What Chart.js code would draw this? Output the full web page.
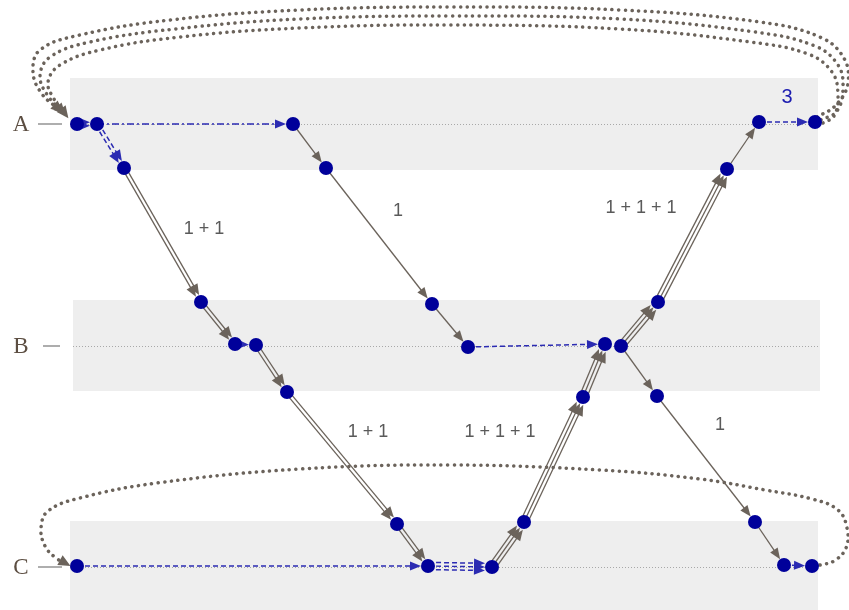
<!DOCTYPE html>
<html>
<head>
<meta charset="utf-8">
<script src="https://cdn.jsdelivr.net/npm/chart.js@4.4.1/dist/chart.umd.min.js"></script>
<style>
  html, body { margin: 0; padding: 0; background: #fff; }
  #wrap { width: 849px; height: 610px; }
</style>
</head>
<body>
<div id="wrap"><canvas id="diagram" width="849" height="610"></canvas></div>
<script>
// --- data ---
const rowNames = ['A', 'B', 'C'];
const rowY = [124, 346, 567];
const bandTop = [78, 300, 521];
const bandBottom = [170, 391, 610];
const bandLeft = [70, 73, 70];
const bandRight = [818, 820, 818];

// nodes (blue dots)
const nodeX = [77, 97, 293, 759, 815, 124, 326, 727, 201, 432, 658, 235, 256, 468, 605, 621, 287, 583, 657, 397, 524, 755, 77, 428, 492, 784, 812];
const nodeY = [124, 124, 124, 122, 122, 168, 168, 169, 302, 304, 302, 344, 345, 347, 344, 346, 392, 397, 396, 524, 522, 522, 566, 566, 567, 565, 566];

// edges: from node, to node, number of parallel lines, style
const edgeFrom  = [0, 1, 1, 3, 11, 13, 22, 23, 25, 5, 8, 12, 16, 19, 2, 6, 9, 24, 20, 17, 15, 10, 7, 15, 18, 21];
const edgeTo    = [1, 2, 5, 4, 12, 14, 23, 24, 26, 8, 11, 16, 19, 23, 6, 9, 13, 20, 17, 14, 10, 7, 3, 18, 21, 25];
const edgeCount = [2, 1, 2, 1, 1, 1, 1, 3, 1, 2, 2, 2, 2, 2, 1, 1, 1, 3, 3, 3, 3, 3, 1, 1, 1, 1];
const edgeStyle = ['dash', 'dashdot', 'dash', 'dash', 'dash', 'dash', 'dash', 'dash', 'dash',
  'solid', 'solid', 'solid', 'solid', 'solid', 'solid', 'solid', 'solid', 'solid', 'solid', 'solid',
  'solid', 'solid', 'solid', 'solid', 'solid', 'solid'];

// edge weight labels
const labelText = ['1 + 1', '1', '1 + 1 + 1', '3', '1 + 1', '1 + 1 + 1', '1'];
const labelX = [204, 398, 641, 787, 368, 500, 720];
const labelY = [229, 211, 208, 97, 432, 432, 425];

// dotted loops (waypoints)
const loopTopOuterX = [817, 835, 848, 845, 822, 760, 620, 450, 300, 170, 80, 40, 33, 42, 60];
const loopTopOuterY = [117, 106, 84, 60, 38, 22, 10, 7, 10, 20, 35, 50, 72, 94, 110];
const loopTopMidX = [821, 837, 843, 838, 815, 755, 620, 450, 300, 175, 90, 50, 40, 48, 63];
const loopTopMidY = [120, 111, 88, 65, 46, 32, 19, 16, 19, 29, 42, 57, 76, 96, 112];
const loopTopInnerX = [823, 834, 838, 832, 808, 750, 620, 450, 300, 180, 100, 60, 48, 54, 66];
const loopTopInnerY = [123, 116, 95, 72, 54, 42, 29, 25, 28, 37, 50, 65, 82, 99, 115];
const loopBottomX = [820, 834, 846, 847, 838, 812, 765, 700, 600, 450, 300, 157, 80, 48, 41, 45, 56, 67];
const loopBottomY = [565, 561, 548, 528, 510, 499, 490, 479, 470, 465, 469, 483, 498, 511, 528, 546, 558, 564];

// --- helpers ---
const GREY = '#6b635b';
const BLUE = '#2b2bb2';
const NODE = '#00009a';

const toPts = (xs, ys) => xs.map((x, i) => ({ x: x, y: ys[i] }));

function arrowHead(ctx, tx, ty, ux, uy, len, half, color) {
    const bx = tx - ux * len, by = ty - uy * len;
    ctx.fillStyle = color;
    ctx.beginPath();
    ctx.moveTo(tx, ty);
    ctx.lineTo(bx - uy * half, by + ux * half);
    ctx.lineTo(bx + uy * half, by - ux * half);
    ctx.closePath();
    ctx.fill();
}

const diagramPlugin = {
    id: 'diagram',
    beforeDatasetsDraw(chart) {
        const ctx = chart.ctx;
        const sx = chart.scales.x, sy = chart.scales.y;
        const px = v => sx.getPixelForValue(v);
        const py = v => sy.getPixelForValue(v);
        ctx.save();

        // grey bands and row guide lines
        rowY.forEach((ry, i) => {
            ctx.fillStyle = '#eeeeee';
            ctx.fillRect(px(bandLeft[i]), py(bandTop[i]), px(bandRight[i]) - px(bandLeft[i]), py(bandBottom[i]) - py(bandTop[i]));
            ctx.strokeStyle = '#a8a8a8';
            ctx.lineWidth = 1;
            ctx.setLineDash([1, 2]);
            ctx.beginPath();
            ctx.moveTo(px(bandLeft[i]), py(ry) + 0.5);
            ctx.lineTo(px(bandRight[i]), py(ry) + 0.5);
            ctx.stroke();
            ctx.setLineDash([]);

            // row names
            ctx.fillStyle = '#5c4e42';
            ctx.font = '23px "Liberation Serif", "DejaVu Serif", serif';
            ctx.textAlign = 'center';
            ctx.textBaseline = 'middle';
            ctx.fillText(rowNames[i], px(21), py(ry) + 1);
            ctx.strokeStyle = '#777';
            ctx.lineWidth = 1.2;
            ctx.beginPath();
            const x0 = i === 1 ? 43 : 38;
            const x1 = i === 1 ? 60 : 62;
            ctx.moveTo(px(x0), py(ry));
            ctx.lineTo(px(x1), py(ry));
            ctx.stroke();
        });

        // edges
        edgeFrom.forEach((f, e) => {
            const ax = px(nodeX[f]), ay = py(nodeY[f]);
            const bx = px(nodeX[edgeTo[e]]), by = py(nodeY[edgeTo[e]]);
            const dx = bx - ax, dy = by - ay;
            const len = Math.hypot(dx, dy);
            const ux = dx / len, uy = dy / len;
            const nx = -uy, ny = ux;
            const n = edgeCount[e];
            const style = edgeStyle[e];
            const color = style === 'solid' ? GREY : BLUE;
            const gap = 3.6;
            for (let k = 0; k < n; k++) {
                const off = (k - (n - 1) / 2) * gap;
                const sxp = ax + nx * off, syp = ay + ny * off;
                const tx = bx - ux * 7 + nx * off, ty = by - uy * 7 + ny * off;
                ctx.strokeStyle = color;
                ctx.lineWidth = style === 'solid' ? 1.3 : 1.5;
                if (style === 'dash') ctx.setLineDash([5, 3]);
                else if (style === 'dashdot') ctx.setLineDash([7, 3, 2, 3]);
                else ctx.setLineDash([]);
                ctx.beginPath();
                ctx.moveTo(sxp, syp);
                ctx.lineTo(tx - ux * 6, ty - uy * 6);
                ctx.stroke();
                ctx.setLineDash([]);
                arrowHead(ctx, tx, ty, ux, uy, 11, 4.5, color);
            }
        });
        ctx.restore();
    },
    afterDatasetsDraw(chart) {
        const ctx = chart.ctx;
        const sx = chart.scales.x, sy = chart.scales.y;
        ctx.save();
        // arrowheads at the end of the dotted loops
        [[loopTopOuterX, loopTopOuterY], [loopTopMidX, loopTopMidY], [loopTopInnerX, loopTopInnerY], [loopBottomX, loopBottomY]]
            .forEach(([xs, ys]) => {
                const m = xs.length - 1;
                const tx = sx.getPixelForValue(xs[m]), ty = sy.getPixelForValue(ys[m]);
                const qx = sx.getPixelForValue(xs[m - 1]), qy = sy.getPixelForValue(ys[m - 1]);
                const l = Math.hypot(tx - qx, ty - qy);
                arrowHead(ctx, tx + (tx - qx) / l * 4, ty + (ty - qy) / l * 4, (tx - qx) / l, (ty - qy) / l, 12, 5.5, GREY);
            });

        // weight labels
        ctx.textAlign = 'center';
        ctx.textBaseline = 'middle';
        labelText.forEach((t, i) => {
            const isBlue = t === '3';
            ctx.fillStyle = isBlue ? '#1c1cb0' : '#5a5a5a';
            ctx.font = (isBlue ? '20px' : '18px') + ' "Liberation Sans", Arial, sans-serif';
            ctx.fillText(t, sx.getPixelForValue(labelX[i]), sy.getPixelForValue(labelY[i]));
        });
        ctx.restore();
    }
};

const loopStyle = {
    showLine: true, pointRadius: 0, borderColor: GREY, borderWidth: 3.5,
    borderDash: [0.1, 6.5], borderCapStyle: 'round', tension: 0.4, fill: false, order: 2
};

new Chart(document.getElementById('diagram'), {
    type: 'scatter',
    data: {
        datasets: [
            { data: toPts(nodeX, nodeY), pointRadius: 7, pointHoverRadius: 7,
              backgroundColor: NODE, borderColor: NODE, borderWidth: 0, order: 0 },
            Object.assign({ data: toPts(loopTopOuterX, loopTopOuterY) }, loopStyle),
            Object.assign({ data: toPts(loopTopMidX, loopTopMidY) }, loopStyle),
            Object.assign({ data: toPts(loopTopInnerX, loopTopInnerY) }, loopStyle),
            Object.assign({ data: toPts(loopBottomX, loopBottomY) }, loopStyle)
        ]
    },
    options: {
        responsive: false,
        animation: false,
        devicePixelRatio: 1,
        layout: { padding: 0, autoPadding: false },
        plugins: { legend: { display: false }, tooltip: { enabled: false } },
        scales: {
            x: { type: 'linear', min: 0, max: 849, display: false },
            y: { type: 'linear', min: 0, max: 610, reverse: true, display: false }
        }
    },
    plugins: [diagramPlugin]
});
</script>
</body>
</html>
